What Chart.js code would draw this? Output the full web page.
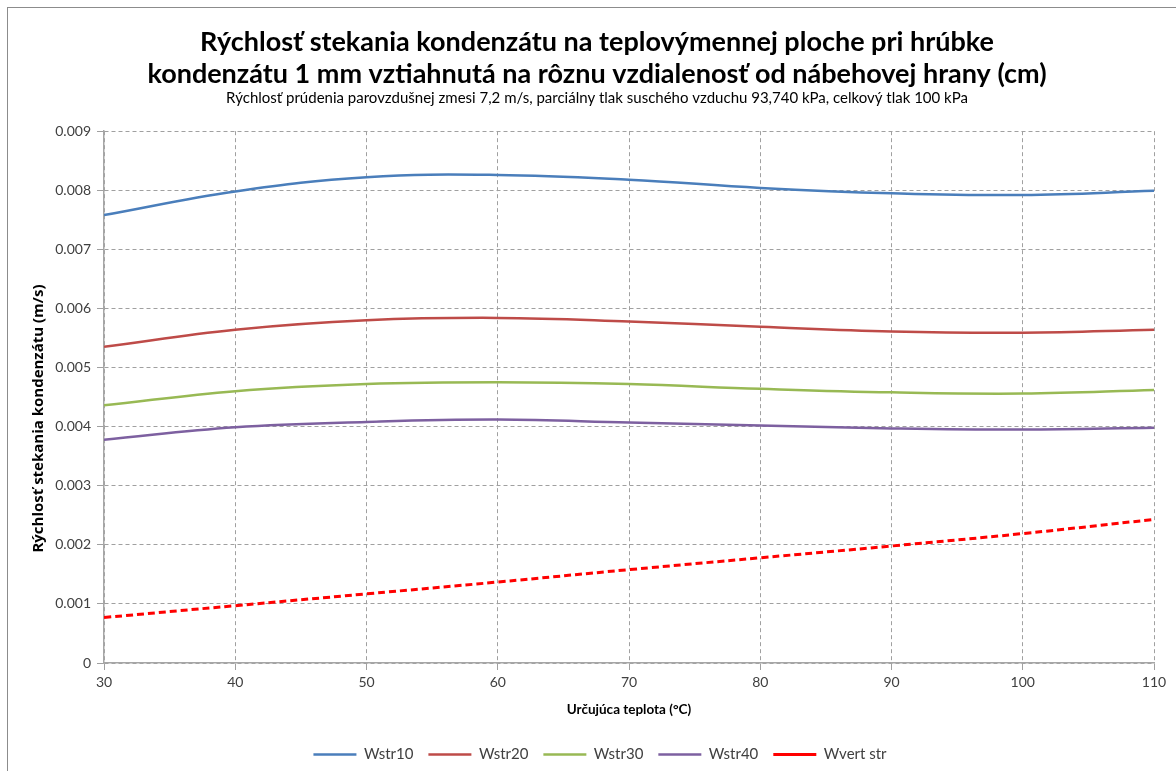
<!DOCTYPE html>
<html>
<head>
<meta charset="utf-8">
<script src="https://cdn.jsdelivr.net/npm/chart.js@4"></script>
<style>
  html, body { margin: 0; padding: 0; background: #fff; }
  #wrap { width: 1176px; height: 771px; position: relative; }
</style>
</head>
<body>
<div id="wrap"><canvas id="chart" width="1176" height="771"></canvas></div>
<script>
// ------------------- DATA -------------------
const temps = [30, 40, 50, 60, 70, 80, 90, 100, 110];
const wstr10 = [0.00758, 0.00798, 0.00822, 0.00826, 0.00818, 0.00804, 0.00795, 0.00792, 0.00799];
const wstr20 = [0.00535, 0.00564, 0.00580, 0.00584, 0.00578, 0.00569, 0.00561, 0.00559, 0.00564];
const wstr30 = [0.00436, 0.00460, 0.00472, 0.00475, 0.00472, 0.00464, 0.00458, 0.00456, 0.00462];
const wstr40 = [0.00378, 0.00399, 0.00408, 0.00412, 0.00407, 0.00402, 0.00397, 0.00395, 0.00398];
const wvert  = [0.00077, 0.00097, 0.00117, 0.00137, 0.00158, 0.00178, 0.00198, 0.00219, 0.00243];
const yTicks = [0, 0.001, 0.002, 0.003, 0.004, 0.005, 0.006, 0.007, 0.008, 0.009];

const FONT = "Lato, 'Open Sans', sans-serif";

function toPoints(values) {
    return temps.map((t, i) => ({ x: t, y: values[i] }));
}

function series(label, values, color, dash) {
    return {
        label: label,
        data: toPoints(values),
        borderColor: color,
        backgroundColor: color,
        borderWidth: dash ? 3 : 2.5,
        borderDash: dash || [],
        pointRadius: 0,
        tension: 0.4,
        fill: false
    };
}

// ------------------- CHART -------------------
const ctx = document.getElementById("chart").getContext("2d");

new Chart(ctx, {
    type: 'line',
    data: {
        datasets: [
            series("Wstr10", wstr10, "#4A7EBB"),
            series("Wstr20", wstr20, "#BE4B48"),
            series("Wstr30", wstr30, "#98B954"),
            series("Wstr40", wstr40, "#7D60A0"),
            series("Wvert str", wvert, "#FF0000", [7, 4])
        ]
    },
    options: {
        responsive: false,
        animation: false,
        layout: { padding: { left: 0, right: 22, top: 0, bottom: 0 } },
        plugins: {
            title: {
                display: true,
                text: [
                    "Rýchlosť stekania kondenzátu na teplovýmennej ploche pri hrúbke",
                    "kondenzátu 1 mm vztiahnutá na rôznu vzdialenosť od nábehovej hrany (cm)"
                ],
                color: "#000",
                font: { family: FONT, size: 27, weight: "bold", lineHeight: 1.17 },
                padding: { top: 27, bottom: 0 }
            },
            subtitle: {
                display: true,
                text: "Rýchlosť prúdenia parovzdušnej zmesi 7,2 m/s, parciálny tlak suschého vzduchu 93,740 kPa, celkový tlak 100 kPa",
                color: "#000",
                font: { family: FONT, size: 15, lineHeight: 1.0 },
                padding: { top: 0, bottom: 26 }
            },
            legend: {
                position: 'bottom',
                labels: {
                    usePointStyle: true,
                    pointStyle: 'line',
                    pointStyleWidth: 43,
                    boxHeight: 12,
                    padding: 15,
                    color: "#404040",
                    font: { family: FONT, size: 15 }
                }
            },
            tooltip: { enabled: false }
        },
        scales: {
            x: {
                type: 'linear',
                min: 30,
                max: 110,
                ticks: {
                    stepSize: 10,
                    color: "#404040",
                    font: { family: FONT, size: 14 },
                    padding: 4
                },
                grid: {
                    color: "#a0a0a0",
                    tickLength: 7,
                    tickColor: "#a0a0a0"
                },
                border: { display: true, color: "#a6a6a6", width: 1.5, dash: [4, 3] },
                title: {
                    display: true,
                    text: "Určujúca teplota (°C)",
                    color: "#000",
                    font: { family: FONT, size: 13.5, weight: "bold" },
                    padding: { top: 4, bottom: 13.5 }
                },
                afterFit: axis => { axis.height = 68; }
            },
            y: {
                min: 0,
                max: 0.009,
                afterBuildTicks: axis => {
                    axis.ticks = yTicks.map(v => ({ value: v }));
                },
                ticks: {
                    color: "#404040",
                    font: { family: FONT, size: 14 },
                    padding: 6,
                    callback: v => v === 0 ? "0" : v.toFixed(3)
                },
                grid: {
                    color: "#a0a0a0",
                    tickLength: 7,
                    tickColor: "#a0a0a0"
                },
                border: { display: true, color: "#a6a6a6", width: 1.5, dash: [4, 3] },
                title: {
                    display: true,
                    // trailing spaces push the label a bit down, like in the original
                    text: "Rýchlosť stekania kondenzátu (m/s)           ",
                    color: "#000",
                    font: { family: "'Open Sans', sans-serif", size: 15, weight: "bold" },
                    padding: { top: 30, bottom: 0 }
                },
                afterFit: axis => { axis.width = 104; }
            }
        }
    },
    plugins: [{
        // title and legend sit a bit right of the canvas centre in the original
        id: 'shiftBoxes',
        afterLayout: chart => {
            const tb = chart.titleBlock;
            const sub = chart.boxes.find(b => b !== tb && tb && b.constructor === tb.constructor);
            [tb, sub].forEach(b => {
                if (!b) return;
                b.left += 20;
                b.right += 20;
            });
            const lg = chart.legend;
            lg.left += 23;
            lg.right += 23;
            lg.top += 1;
            lg.bottom += 1;
        }
    }, {
        // thin outer frame of the chart object
        id: 'frame',
        beforeDraw: chart => {
            const c = chart.ctx;
            c.save();
            c.strokeStyle = "#8c8c8c";
            c.lineWidth = 1;
            c.strokeRect(7.5, 7.5, 1200, 800);
            c.restore();
        }
    }]
});
</script>
</body>
</html>
